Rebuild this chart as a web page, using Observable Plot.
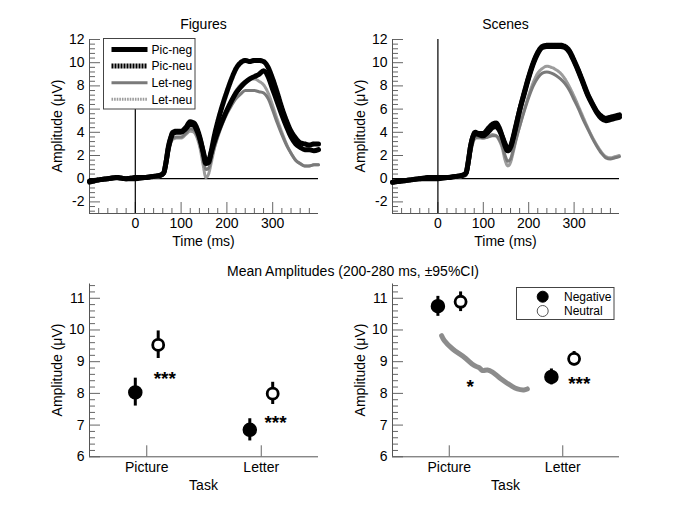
<!DOCTYPE html>
<html><head><meta charset="utf-8">
<script src="https://cdn.jsdelivr.net/npm/d3@7"></script>
<script src="https://cdn.jsdelivr.net/npm/@observablehq/plot@0.6"></script>
<style>
body{margin:0;background:#fff;}
#chart{position:relative;width:685px;height:513px;}
#chart svg{position:absolute;left:0;top:0;}
</style></head><body><div id="chart"></div>
<script>
// ---------------- DATA ----------------
const seriesNames = ["Pic-neg", "Pic-neu", "Let-neg", "Let-neu"];
const times = [-100,-80,-60,-40,-20, 0,20,40, 55,62,67,72,77,82, 90,100,110,120, 128,135,142,148,154, 160,166,172,180, 190,200,210,220,230, 240,250,260,270,280, 290,300,310,320,330, 340,350,360,370,380, 390,400];

const figPicNeg = [-0.2,-0.1,0.0,0.1,0.0, 0.0,0.1,0.2, 0.3,0.5,1.4,2.6,3.4,3.9, 4.0,4.0,4.3,4.7, 4.6,4.1,3.3,2.4,1.6, 1.6,2.3,3.1,4.0, 5.0,5.9,6.7,7.4,7.9, 8.3,8.6,8.8,9.0,9.3, 8.8,7.7,6.6,5.5,4.5, 3.6,3.0,2.7,2.5,2.5, 2.4,2.5];
const figPicNeu = [-0.3,-0.1,0.0,0.1,0.0, 0.1,0.1,0.2, 0.3,0.5,1.4,2.7,3.5,4.0, 4.1,4.1,4.4,4.9, 4.8,4.3,3.4,2.3,1.3, 1.4,2.4,3.6,4.9, 6.3,7.5,8.6,9.5,10.0, 10.2,10.1,10.2,10.2,10.1, 9.6,8.6,7.4,6.1,5.0, 4.1,3.5,3.1,3.0,2.9, 3.0,3.0];
const figLetNeg = [-0.2,-0.1,0.0,0.0,0.0, 0.0,0.1,0.2, 0.3,0.4,1.1,2.3,3.1,3.5, 3.6,3.6,3.9,4.3, 4.2,3.7,2.8,1.7,0.8, 0.9,1.7,2.6,3.6, 4.7,5.6,6.3,6.9,7.3, 7.6,7.6,7.6,7.5,7.4, 6.9,5.9,4.8,3.8,2.9, 2.2,1.6,1.3,1.1,1.1, 1.2,1.2];
const figLetNeu = [-0.3,-0.2,0.0,0.0,0.0, 0.0,0.1,0.1, 0.2,0.4,1.0,2.1,3.0,3.4, 3.5,3.5,3.8,4.1, 4.0,3.5,2.5,1.2,0.1, 0.4,1.4,2.5,3.7, 4.9,5.9,6.8,7.6,8.1, 8.4,8.6,8.6,8.4,8.1, 7.4,6.3,5.1,4.0,3.0, 2.2,1.6,1.3,1.1,1.1, 1.2,1.2];

const scnPicNeg = [-0.3,-0.2,-0.1,0.0,0.0, 0.0,0.1,0.2, 0.3,0.5,1.5,2.8,3.6,3.9, 3.8,3.7,4.0,4.4, 4.5,4.2,3.6,3.0,2.6, 2.8,3.6,4.6,5.9, 7.3,8.7,9.9,10.8,11.3, 11.4,11.4,11.4,11.4,11.3, 10.9,10.1,9.2,8.2,7.2, 6.4,5.7,5.2,5.0,5.1, 5.2,5.3];
const scnPicNeu = [-0.3,-0.2,-0.1,0.0,0.1, 0.1,0.1,0.2, 0.3,0.5,1.5,2.8,3.6,4.0, 3.9,3.9,4.3,4.7, 4.8,4.4,3.6,2.8,2.4, 2.7,3.5,4.5,5.9, 7.4,8.8,10.0,10.9,11.4, 11.5,11.5,11.5,11.5,11.4, 11.0,10.2,9.3,8.3,7.3, 6.5,5.8,5.4,5.2,5.3, 5.4,5.5];
const scnLetNeg = [-0.3,-0.2,-0.1,0.0,0.0, 0.0,0.1,0.1, 0.2,0.3,1.0,2.2,3.1,3.5, 3.6,3.5,3.6,3.7, 3.7,3.4,2.8,2.0,1.5, 1.7,2.5,3.4,4.5, 5.8,7.0,8.0,8.7,9.1, 9.2,9.1,8.9,8.6,8.2, 7.6,6.8,6.0,5.1,4.3, 3.5,2.8,2.2,1.8,1.7, 1.8,1.9];
const scnLetNeu = [-0.3,-0.2,-0.1,0.0,0.0, 0.0,0.1,0.1, 0.2,0.3,1.0,2.2,3.1,3.5, 3.5,3.5,3.6,3.8, 3.7,3.3,2.6,1.6,1.1, 1.4,2.3,3.3,4.5, 5.9,7.2,8.3,9.1,9.5, 9.7,9.6,9.4,9.1,8.6, 7.9,7.1,6.2,5.3,4.4, 3.6,2.9,2.3,1.9,1.8, 1.9,2.0];

const tasks = ["Picture", "Letter"];
const conditions = ["Negative", "Neutral"];
const figNeg = [8.03, 6.85], figNegLo = [7.60, 6.50], figNegHi = [8.48, 7.20];
const figNeu = [9.53, 7.99], figNeuLo = [9.10, 7.65], figNeuHi = [9.97, 8.35];
const scnNeg = [10.75, 8.52], scnNegLo = [10.43, 8.27], scnNegHi = [11.06, 8.77];
const scnNeu = [10.89, 9.09], scnNeuLo = [10.58, 8.87], scnNeuHi = [11.20, 9.32];
const figStarLabels = ["***", "***"], figStarValues = [8.60, 7.24];
const scnStarLabels = ["*", "***"], scnStarValues = [8.37, 8.46];
// stray grey stroke present in the original figure (task units, µV)
const strokeTask = [0.933,0.956,1.030,1.132,1.219,1.263,1.293,1.337,1.381,1.454,1.541,1.600,1.658,1.688];
const strokeAmp  = [9.82,9.67,9.40,9.14,8.88,8.81,8.72,8.74,8.67,8.46,8.25,8.14,8.11,8.14];

const panelTitles = ["Figures", "Scenes"];
const mainTitle = "Mean Amplitudes (200-280 ms, \u00B195%CI)";
const yLabel = "Amplitude (\u03BCV)";
const xLabelTop = "Time (ms)";
const xLabelBottom = "Task";

// ---------------- DRAWING ----------------
const W = 685, H = 513;
const FONT = '"Liberation Sans", Arial, Helvetica, sans-serif';
const chart = document.getElementById("chart");
const lineStyles = {
  "Pic-neg": {stroke: "#000", strokeWidth: 5},
  "Pic-neu": {stroke: "#000", strokeWidth: 5, strokeDasharray: "2,1"},
  "Let-neg": {stroke: "#7a7a7a", strokeWidth: 3},
  "Let-neu": {stroke: "#9c9c9c", strokeWidth: 3, strokeDasharray: "1.6,1"}
};
const drawOrder = ["Let-neu", "Let-neg", "Pic-neg", "Pic-neu"];
const TICK = "#666";

function frameMarks(xd, yd, kx, ky, yMajor, yMinor, xMajor, xMinor, yMajLen, xMajLen, xFmt) {
  return [
    Plot.ruleY(yMinor, {y: d => d, x1: xd[0], x2: xd[0] + 6 / kx, stroke: TICK}),
    Plot.ruleY(yMajor, {y: d => d, x1: xd[0], x2: xd[0] + yMajLen / kx, stroke: TICK}),
    Plot.ruleX(xMinor, {x: d => d, y1: yd[0], y2: yd[0] + 5 / ky, stroke: TICK}),
    Plot.ruleX(xMajor, {x: d => d, y1: yd[0], y2: yd[0] + xMajLen / ky, stroke: TICK}),
    Plot.axisY(yMajor, {tickSize: 0, tickPadding: 5, label: null, tickFormat: d => String(d)}),
    Plot.axisX(xMajor, {tickSize: 0, tickPadding: 5, label: null, tickFormat: xFmt}),
    Plot.ruleX([xd[0]], {stroke: "#555"}),
    Plot.ruleY([yd[0]], {stroke: "#555"})
  ];
}

function wavePanel(x0, x1, y0, y1, values) {
  const xd = [-100, 400], yd = [-3, 12];
  const kx = (x1 - x0) / (xd[1] - xd[0]), ky = (y1 - y0) / (yd[1] - yd[0]);
  const yMajor = d3.range(-2, 12.001, 2);
  const yMinor = d3.range(-2.8, 12.001, 0.4).map(v => +v.toFixed(2)).filter(v => Math.abs(v / 2 - Math.round(v / 2)) > 1e-6);
  const xMajor = [0, 100, 200, 300];
  const xMinor = d3.range(-80, 401, 20).filter(v => v % 100 !== 0);
  const lines = drawOrder.map(name => {
    const vals = values[seriesNames.indexOf(name)];
    const rows = times.map((t, i) => ({t, v: vals[i]}));
    return Plot.line(rows, {x: "t", y: "v", curve: "monotone-x", strokeLinejoin: "round", ...lineStyles[name]});
  });
  return Plot.plot({
    width: W, height: H,
    marginLeft: x0, marginRight: W - x1, marginTop: y0, marginBottom: H - y1,
    x: {domain: xd}, y: {domain: yd},
    style: {background: "transparent", fontFamily: FONT, fontSize: "14px", color: "#000", overflow: "visible"},
    marks: [
      ...frameMarks(xd, yd, kx, ky, yMajor, yMinor, xMajor, xMinor, 11, 11, d => String(d)),
      Plot.ruleY([0], {stroke: "#000", strokeWidth: 1.2}),
      Plot.ruleX([0], {stroke: "#000", strokeWidth: 1.2}),
      ...lines
    ]
  });
}

function meanPanel(x0, x1, y0, y1, neg, negLo, negHi, neu, neuLo, neuHi, starLabels, starValues, starShift, extra) {
  const xd = [0.5, 2.5], yd = [6, 11.45];
  const kx = (x1 - x0) / (xd[1] - xd[0]), ky = (y1 - y0) / (yd[1] - yd[0]);
  const yMajor = d3.range(6, 11.001, 1);
  const yMinor = d3.range(6.2, 11.45, 0.2).map(v => +v.toFixed(2)).filter(v => Math.abs(v - Math.round(v)) > 1e-6);
  const OFF = 0.1;
  const negRows = tasks.map((t, i) => ({x: i + 1 - OFF, v: neg[i], lo: negLo[i], hi: negHi[i]}));
  const neuRows = tasks.map((t, i) => ({x: i + 1 + OFF, v: neu[i], lo: neuLo[i], hi: neuHi[i]}));
  const starRows = tasks.map((t, i) => ({x: i + 1 + starShift[i], v: starValues[i], s: starLabels[i]}));
  const marks = [...frameMarks(xd, yd, kx, ky, yMajor, yMinor, [1, 2], [], 11, 11, d => tasks[d - 1])];
  if (extra) marks.push(Plot.line(extra, {x: "x", y: "y", stroke: "#8c8c8c", strokeWidth: 5, strokeLinecap: "round", strokeLinejoin: "round", curve: "catmull-rom"}));
  marks.push(
    Plot.ruleX(negRows, {x: "x", y1: "lo", y2: "hi", stroke: "#000", strokeWidth: 3}),
    Plot.ruleX(neuRows, {x: "x", y1: "lo", y2: "hi", stroke: "#000", strokeWidth: 3}),
    Plot.dot(negRows, {x: "x", y: "v", r: 6.5, fill: "#000", stroke: "#000"}),
    Plot.dot(neuRows, {x: "x", y: "v", r: 5.5, fill: "#fff", stroke: "#000", strokeWidth: 2.8}),
    Plot.text(starRows, {x: "x", y: "v", text: "s", fontSize: 19, fontWeight: "bold", dy: 5})
  );
  return Plot.plot({
    width: W, height: H,
    marginLeft: x0, marginRight: W - x1, marginTop: y0, marginBottom: H - y1,
    x: {domain: xd}, y: {domain: yd},
    style: {background: "transparent", fontFamily: FONT, fontSize: "14px", color: "#000", overflow: "visible"},
    marks
  });
}

chart.append(wavePanel(89, 318, 39, 213, [figPicNeg, figPicNeu, figLetNeg, figLetNeu]));
chart.append(wavePanel(392, 619, 39, 213, [scnPicNeg, scnPicNeu, scnLetNeg, scnLetNeu]));
chart.append(meanPanel(89, 318, 283.5, 456.3, figNeg, figNegLo, figNegHi, figNeu, figNeuLo, figNeuHi,
  figStarLabels, figStarValues, [0.157, 0.125], null));
chart.append(meanPanel(392, 619, 283.5, 456.3, scnNeg, scnNegLo, scnNegHi, scnNeu, scnNeuLo, scnNeuHi,
  scnStarLabels, scnStarValues, [0.184, 0.146], strokeTask.map((x, i) => ({x, y: strokeAmp[i]}))));

// ---------------- overlay: titles, axis labels, legends ----------------
const ov = d3.select(chart).append("svg").attr("width", W).attr("height", H)
  .style("font-family", FONT).style("overflow", "visible");
function txt(x, y, s, size = 14, anchor = "middle", rot = 0) {
  const t = ov.append("text").attr("x", x).attr("y", y).attr("font-size", size)
    .attr("text-anchor", anchor).attr("fill", "#000").text(s);
  if (rot) t.attr("transform", `rotate(${rot},${x},${y})`);
  return t;
}
const centers = [203.5, 505.5];
const axisX0 = [89, 392];
panelTitles.forEach((s, i) => txt(centers[i], 28.5, s));
centers.forEach((c, i) => {
  txt(c, 246, xLabelTop);
  txt(c, 489.5, xLabelBottom);
  txt(axisX0[i] - 27, 126, yLabel, 14, "middle", -90);
  txt(axisX0[i] - 27, 370, yLabel, 14, "middle", -90);
});
txt(353, 275.5, mainTitle);

// legend (top-left)
const lg = ov.append("g");
lg.append("rect").attr("x", 103.5).attr("y", 38.5).attr("width", 91.5).attr("height", 70.5)
  .attr("fill", "#fff").attr("stroke", "#444");
seriesNames.forEach((name, i) => {
  const y = 49.5 + i * 16.6;
  const st = lineStyles[name];
  lg.append("line").attr("x1", 111.5).attr("x2", 147.5).attr("y1", y).attr("y2", y)
    .attr("stroke", st.stroke).attr("stroke-width", st.strokeWidth)
    .attr("stroke-dasharray", st.strokeDasharray || null);
  lg.append("text").attr("x", 151.5).attr("y", y + 4.3).attr("font-size", 12).text(name);
});

// legend (bottom-right)
const lg2 = ov.append("g");
lg2.append("rect").attr("x", 516.5).attr("y", 287.5).attr("width", 97.5).attr("height", 32)
  .attr("fill", "#fff").attr("stroke", "#444");
conditions.forEach((name, i) => {
  const y = 296.7 + i * 14.3;
  lg2.append("circle").attr("cx", 542.7).attr("cy", y).attr("r", 5.5)
    .attr("fill", i === 0 ? "#000" : "#fff").attr("stroke", i === 0 ? "#000" : "#555").attr("stroke-width", 1);
  lg2.append("text").attr("x", 564).attr("y", y + 4.3).attr("font-size", 12).text(name);
});
</script></body></html>
